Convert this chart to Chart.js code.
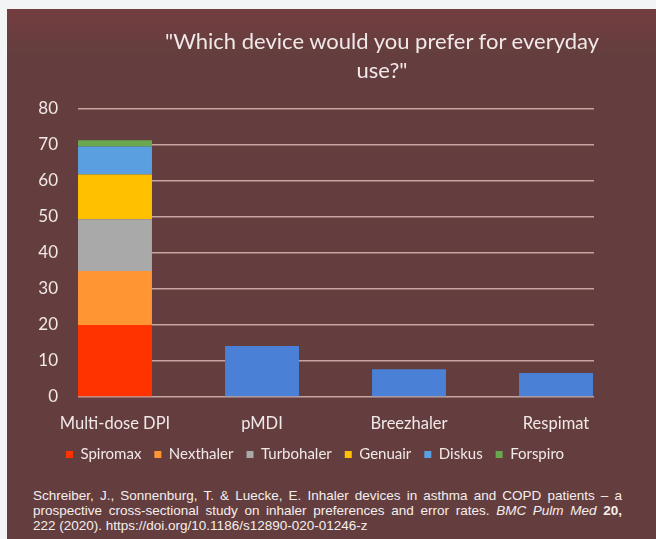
<!DOCTYPE html>
<html>
<head>
<meta charset="utf-8">
<script src="https://cdn.jsdelivr.net/npm/chart.js@4/dist/chart.umd.min.js"></script>
<style>
  html, body { margin: 0; padding: 0; }
  body { width: 656px; height: 539px; background: #f3f4f6; position: relative; overflow: hidden; }
  #panel {
    position: absolute; left: 7px; top: 9px; width: 649px; height: 530px;
    background: linear-gradient(to bottom, rgba(135,60,65,0.45) 0px, rgba(100,62,62,0) 45px), #643e3e;
  }
  #chart { position: absolute; left: 0; top: 0; }
  #title {
    position: absolute; left: 125px; top: 17px; width: 500px;
    font-family: Lato, sans-serif; font-size: 22px; line-height: 29px;
    color: #f1e8e8; text-align: center;
  }
  #cite {
    position: absolute; left: 26px; top: 479px; width: 589px;
    font-family: "Liberation Sans", Arial, sans-serif; font-size: 13.5px; line-height: 15px;
    color: #f4eeee;
  }
  #cite div { white-space: nowrap; }
  #cite .j { text-align: justify; text-align-last: justify; }
</style>
</head>
<body>
<div id="panel">
  <canvas id="chart" width="649" height="475"></canvas>
  <div id="title">"Which device would you prefer for everyday<br>use?"</div>
  <div id="cite">
    <div class="j">Schreiber, J., Sonnenburg, T. &amp; Luecke, E. Inhaler devices in asthma and COPD patients – a</div>
    <div class="j">prospective cross-sectional study on inhaler preferences and error rates. <i>BMC Pulm Med</i> <b>20,</b></div>
    <div>222 (2020). https://doi.org/10.1186/s12890-020-01246-z</div>
  </div>
</div>
<script>
// ---- data ----
const categories = ['Multi-dose DPI', 'pMDI', 'Breezhaler', 'Respimat'];
const dpiDevices = ['Spiromax', 'Nexthaler', 'Turbohaler', 'Genuair', 'Diskus', 'Forspiro'];
const dpiValues = [20, 15, 14.4, 12.4, 7.8, 1.7];          // stacked in "Multi-dose DPI"
const otherValues = [null, 14.2, 7.7, 6.7];                 // pMDI, Breezhaler, Respimat
const yTickValues = [0, 10, 20, 30, 40, 50, 60, 70, 80];

// ---- styles ----
const dpiColors = ['#ff3300', '#ff9533', '#a9a9a9', '#ffc000', '#5aa0e0', '#6aa84f'];
const otherColor = '#4a80d6';
const textColor = '#f1e8e8';
const gridColor = '#c6a4a0';

const datasets = dpiDevices.map((name, i) => ({
  label: name,
  data: [{ x: 0, y: dpiValues[i] }],
  backgroundColor: dpiColors[i],
  borderWidth: 0
}));
datasets.push({
  label: 'Other',
  data: categories.map((c, i) => ({ x: i, y: otherValues[i] })).filter(p => p.y !== null),
  backgroundColor: otherColor,
  borderWidth: 0
});

new Chart(document.getElementById('chart'), {
  type: 'bar',
  data: { datasets },
  options: {
    responsive: false,
    animation: false,
    devicePixelRatio: 1,
    barPercentage: 0.503,
    categoryPercentage: 1,
    layout: { padding: { top: 100, right: 62, left: 29, bottom: 12 } },
    scales: {
      x: {
        type: 'linear',
        stacked: true,
        offset: false,
        min: -0.2517,
        max: 3.2585,
        afterFit: (scale) => { scale.height = 37; },
        grid: { display: false, drawTicks: false, offset: false },
        border: { display: false },
        afterBuildTicks: (scale) => { scale.ticks = categories.map((c, i) => ({ value: i })); },
        ticks: {
          padding: 17,
          maxRotation: 0,
          autoSkip: false,
          color: textColor,
          font: { family: 'Lato', size: 16.5 },
          callback: (v) => categories[v]
        }
      },
      y: {
        stacked: true,
        min: yTickValues[0],
        max: yTickValues[yTickValues.length - 1],
        afterFit: (scale) => { scale.width = 42; },
        afterBuildTicks: (scale) => { scale.ticks = yTickValues.map(v => ({ value: v })); },
        grid: { color: gridColor, lineWidth: 1.5, drawTicks: false },
        border: { display: false },
        ticks: {
          padding: 20,
          color: textColor,
          font: { family: 'Lato', size: 17 }
        }
      }
    },
    plugins: {
      tooltip: { enabled: false },
      legend: {
        position: 'bottom',
        labels: {
          filter: (item) => item.datasetIndex < dpiDevices.length,
          boxWidth: 7,
          boxHeight: 7,
          padding: 13,
          color: textColor,
          font: { family: 'Lato', size: 15 }
        }
      }
    }
  }
});
</script>
</body>
</html>
